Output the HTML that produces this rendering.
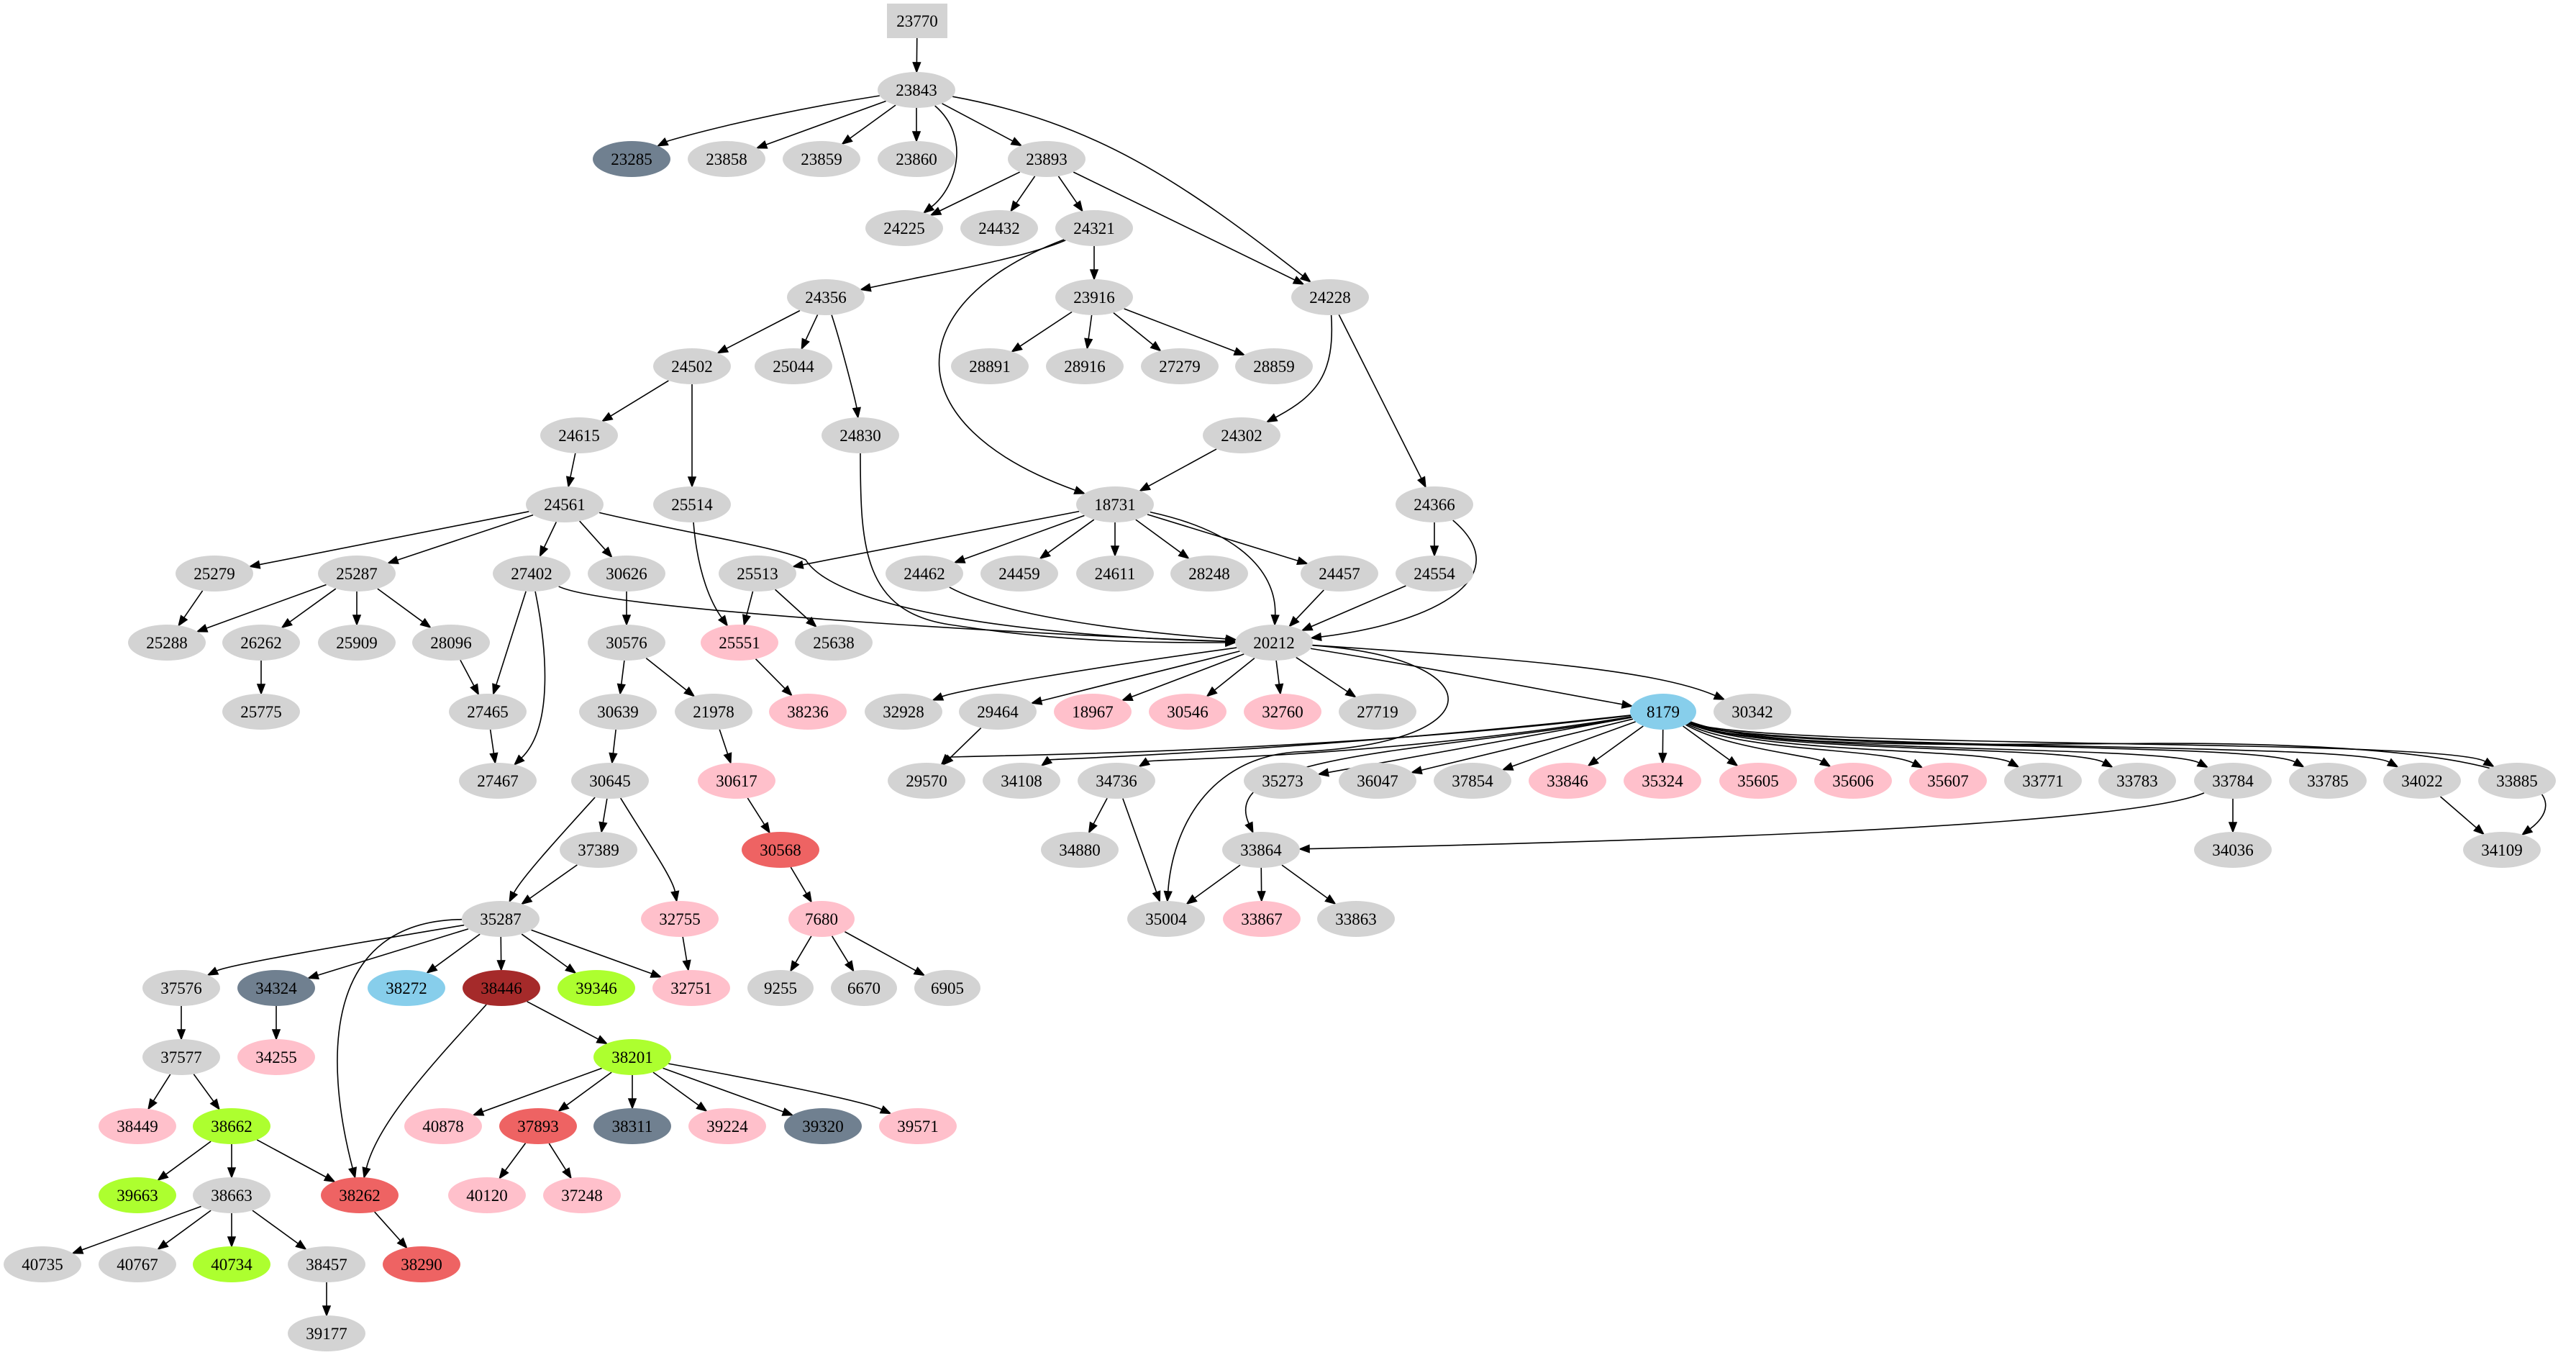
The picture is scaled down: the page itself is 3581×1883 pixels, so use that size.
<!DOCTYPE html>
<html><head><meta charset="utf-8"><style>
html,body{margin:0;padding:0;background:#fff;}
svg{display:block;}
text{font-family:"Liberation Serif",serif;font-size:23px;text-anchor:middle;fill:#000;}
</style></head><body>
<svg id="s" width="3581" height="1883" viewBox="0 0 3581 1883" xmlns="http://www.w3.org/2000/svg">
<g id="edges" stroke="#000" stroke-width="1.6" fill="none"></g>
<g id="arrows" fill="#000" stroke="#000" stroke-width="1.6"></g>
<g id="nodes">
<rect x="1233" y="5" width="84" height="48" fill="#d3d3d3"/><ellipse id="e23770" cx="1275" cy="29" rx="42" ry="24" fill="none"/><text x="1275" y="37">23770</text>
<ellipse id="e23843" cx="1274" cy="125" rx="54" ry="25" fill="#d3d3d3"/><text x="1274" y="133">23843</text>
<ellipse id="e23285" cx="878" cy="221" rx="54" ry="25" fill="#708090"/><text x="878" y="229">23285</text>
<ellipse id="e23858" cx="1010" cy="221" rx="54" ry="25" fill="#d3d3d3"/><text x="1010" y="229">23858</text>
<ellipse id="e23859" cx="1142" cy="221" rx="54" ry="25" fill="#d3d3d3"/><text x="1142" y="229">23859</text>
<ellipse id="e23860" cx="1274" cy="221" rx="54" ry="25" fill="#d3d3d3"/><text x="1274" y="229">23860</text>
<ellipse id="e23893" cx="1455" cy="221" rx="54" ry="25" fill="#d3d3d3"/><text x="1455" y="229">23893</text>
<ellipse id="e24225" cx="1257" cy="317" rx="54" ry="25" fill="#d3d3d3"/><text x="1257" y="325">24225</text>
<ellipse id="e24432" cx="1389" cy="317" rx="54" ry="25" fill="#d3d3d3"/><text x="1389" y="325">24432</text>
<ellipse id="e24321" cx="1521" cy="317" rx="54" ry="25" fill="#d3d3d3"/><text x="1521" y="325">24321</text>
<ellipse id="e24356" cx="1148" cy="413" rx="54" ry="25" fill="#d3d3d3"/><text x="1148" y="421">24356</text>
<ellipse id="e23916" cx="1521" cy="413" rx="54" ry="25" fill="#d3d3d3"/><text x="1521" y="421">23916</text>
<ellipse id="e24228" cx="1849" cy="413" rx="54" ry="25" fill="#d3d3d3"/><text x="1849" y="421">24228</text>
<ellipse id="e24502" cx="962" cy="509" rx="54" ry="25" fill="#d3d3d3"/><text x="962" y="517">24502</text>
<ellipse id="e25044" cx="1103" cy="509" rx="54" ry="25" fill="#d3d3d3"/><text x="1103" y="517">25044</text>
<ellipse id="e28891" cx="1376" cy="509" rx="54" ry="25" fill="#d3d3d3"/><text x="1376" y="517">28891</text>
<ellipse id="e28916" cx="1508" cy="509" rx="54" ry="25" fill="#d3d3d3"/><text x="1508" y="517">28916</text>
<ellipse id="e27279" cx="1640" cy="509" rx="54" ry="25" fill="#d3d3d3"/><text x="1640" y="517">27279</text>
<ellipse id="e28859" cx="1771" cy="509" rx="54" ry="25" fill="#d3d3d3"/><text x="1771" y="517">28859</text>
<ellipse id="e24615" cx="805" cy="605" rx="54" ry="25" fill="#d3d3d3"/><text x="805" y="613">24615</text>
<ellipse id="e24830" cx="1196" cy="605" rx="54" ry="25" fill="#d3d3d3"/><text x="1196" y="613">24830</text>
<ellipse id="e24302" cx="1726" cy="605" rx="54" ry="25" fill="#d3d3d3"/><text x="1726" y="613">24302</text>
<ellipse id="e24561" cx="785" cy="701" rx="54" ry="25" fill="#d3d3d3"/><text x="785" y="709">24561</text>
<ellipse id="e25514" cx="962" cy="701" rx="54" ry="25" fill="#d3d3d3"/><text x="962" y="709">25514</text>
<ellipse id="e18731" cx="1550" cy="701" rx="54" ry="25" fill="#d3d3d3"/><text x="1550" y="709">18731</text>
<ellipse id="e24366" cx="1994" cy="701" rx="54" ry="25" fill="#d3d3d3"/><text x="1994" y="709">24366</text>
<ellipse id="e25279" cx="298" cy="797" rx="54" ry="25" fill="#d3d3d3"/><text x="298" y="805">25279</text>
<ellipse id="e25287" cx="496" cy="797" rx="54" ry="25" fill="#d3d3d3"/><text x="496" y="805">25287</text>
<ellipse id="e27402" cx="739" cy="797" rx="54" ry="25" fill="#d3d3d3"/><text x="739" y="805">27402</text>
<ellipse id="e30626" cx="871" cy="797" rx="54" ry="25" fill="#d3d3d3"/><text x="871" y="805">30626</text>
<ellipse id="e25513" cx="1053" cy="797" rx="54" ry="25" fill="#d3d3d3"/><text x="1053" y="805">25513</text>
<ellipse id="e24462" cx="1285" cy="797" rx="54" ry="25" fill="#d3d3d3"/><text x="1285" y="805">24462</text>
<ellipse id="e24459" cx="1417" cy="797" rx="54" ry="25" fill="#d3d3d3"/><text x="1417" y="805">24459</text>
<ellipse id="e24611" cx="1550" cy="797" rx="54" ry="25" fill="#d3d3d3"/><text x="1550" y="805">24611</text>
<ellipse id="e28248" cx="1681" cy="797" rx="54" ry="25" fill="#d3d3d3"/><text x="1681" y="805">28248</text>
<ellipse id="e24457" cx="1862" cy="797" rx="54" ry="25" fill="#d3d3d3"/><text x="1862" y="805">24457</text>
<ellipse id="e24554" cx="1994" cy="797" rx="54" ry="25" fill="#d3d3d3"/><text x="1994" y="805">24554</text>
<ellipse id="e25288" cx="232" cy="893" rx="54" ry="25" fill="#d3d3d3"/><text x="232" y="901">25288</text>
<ellipse id="e26262" cx="363" cy="893" rx="54" ry="25" fill="#d3d3d3"/><text x="363" y="901">26262</text>
<ellipse id="e25909" cx="496" cy="893" rx="54" ry="25" fill="#d3d3d3"/><text x="496" y="901">25909</text>
<ellipse id="e28096" cx="627" cy="893" rx="54" ry="25" fill="#d3d3d3"/><text x="627" y="901">28096</text>
<ellipse id="e30576" cx="871" cy="893" rx="54" ry="25" fill="#d3d3d3"/><text x="871" y="901">30576</text>
<ellipse id="e25551" cx="1028" cy="893" rx="54" ry="25" fill="#ffc0cb"/><text x="1028" y="901">25551</text>
<ellipse id="e25638" cx="1159" cy="893" rx="54" ry="25" fill="#d3d3d3"/><text x="1159" y="901">25638</text>
<ellipse id="e20212" cx="1771" cy="893" rx="54" ry="25" fill="#d3d3d3"/><text x="1771" y="901">20212</text>
<ellipse id="e25775" cx="363" cy="989" rx="54" ry="25" fill="#d3d3d3"/><text x="363" y="997">25775</text>
<ellipse id="e27465" cx="678" cy="989" rx="54" ry="25" fill="#d3d3d3"/><text x="678" y="997">27465</text>
<ellipse id="e30639" cx="859" cy="989" rx="54" ry="25" fill="#d3d3d3"/><text x="859" y="997">30639</text>
<ellipse id="e21978" cx="992" cy="989" rx="54" ry="25" fill="#d3d3d3"/><text x="992" y="997">21978</text>
<ellipse id="e38236" cx="1123" cy="989" rx="54" ry="25" fill="#ffc0cb"/><text x="1123" y="997">38236</text>
<ellipse id="e32928" cx="1256" cy="989" rx="54" ry="25" fill="#d3d3d3"/><text x="1256" y="997">32928</text>
<ellipse id="e29464" cx="1387" cy="989" rx="54" ry="25" fill="#d3d3d3"/><text x="1387" y="997">29464</text>
<ellipse id="e18967" cx="1519" cy="989" rx="54" ry="25" fill="#ffc0cb"/><text x="1519" y="997">18967</text>
<ellipse id="e30546" cx="1651" cy="989" rx="54" ry="25" fill="#ffc0cb"/><text x="1651" y="997">30546</text>
<ellipse id="e32760" cx="1783" cy="989" rx="54" ry="25" fill="#ffc0cb"/><text x="1783" y="997">32760</text>
<ellipse id="e27719" cx="1915" cy="989" rx="54" ry="25" fill="#d3d3d3"/><text x="1915" y="997">27719</text>
<ellipse id="e8179" cx="2312" cy="989" rx="46" ry="25" fill="#87ceeb"/><text x="2312" y="997">8179</text>
<ellipse id="e30342" cx="2436" cy="989" rx="54" ry="25" fill="#d3d3d3"/><text x="2436" y="997">30342</text>
<ellipse id="e27467" cx="692" cy="1085" rx="54" ry="25" fill="#d3d3d3"/><text x="692" y="1093">27467</text>
<ellipse id="e30645" cx="848" cy="1085" rx="54" ry="25" fill="#d3d3d3"/><text x="848" y="1093">30645</text>
<ellipse id="e30617" cx="1024" cy="1085" rx="54" ry="25" fill="#ffc0cb"/><text x="1024" y="1093">30617</text>
<ellipse id="e29570" cx="1288" cy="1085" rx="54" ry="25" fill="#d3d3d3"/><text x="1288" y="1093">29570</text>
<ellipse id="e34108" cx="1420" cy="1085" rx="54" ry="25" fill="#d3d3d3"/><text x="1420" y="1093">34108</text>
<ellipse id="e34736" cx="1552" cy="1085" rx="54" ry="25" fill="#d3d3d3"/><text x="1552" y="1093">34736</text>
<ellipse id="e35273" cx="1783" cy="1085" rx="54" ry="25" fill="#d3d3d3"/><text x="1783" y="1093">35273</text>
<ellipse id="e36047" cx="1915" cy="1085" rx="54" ry="25" fill="#d3d3d3"/><text x="1915" y="1093">36047</text>
<ellipse id="e37854" cx="2047" cy="1085" rx="54" ry="25" fill="#d3d3d3"/><text x="2047" y="1093">37854</text>
<ellipse id="e33846" cx="2179" cy="1085" rx="54" ry="25" fill="#ffc0cb"/><text x="2179" y="1093">33846</text>
<ellipse id="e35324" cx="2311" cy="1085" rx="54" ry="25" fill="#ffc0cb"/><text x="2311" y="1093">35324</text>
<ellipse id="e35605" cx="2444" cy="1085" rx="54" ry="25" fill="#ffc0cb"/><text x="2444" y="1093">35605</text>
<ellipse id="e35606" cx="2576" cy="1085" rx="54" ry="25" fill="#ffc0cb"/><text x="2576" y="1093">35606</text>
<ellipse id="e35607" cx="2708" cy="1085" rx="54" ry="25" fill="#ffc0cb"/><text x="2708" y="1093">35607</text>
<ellipse id="e33771" cx="2840" cy="1085" rx="54" ry="25" fill="#d3d3d3"/><text x="2840" y="1093">33771</text>
<ellipse id="e33783" cx="2971" cy="1085" rx="54" ry="25" fill="#d3d3d3"/><text x="2971" y="1093">33783</text>
<ellipse id="e33784" cx="3104" cy="1085" rx="54" ry="25" fill="#d3d3d3"/><text x="3104" y="1093">33784</text>
<ellipse id="e33785" cx="3236" cy="1085" rx="54" ry="25" fill="#d3d3d3"/><text x="3236" y="1093">33785</text>
<ellipse id="e34022" cx="3367" cy="1085" rx="54" ry="25" fill="#d3d3d3"/><text x="3367" y="1093">34022</text>
<ellipse id="e33885" cx="3499" cy="1085" rx="54" ry="25" fill="#d3d3d3"/><text x="3499" y="1093">33885</text>
<ellipse id="e37389" cx="832" cy="1181" rx="54" ry="25" fill="#d3d3d3"/><text x="832" y="1189">37389</text>
<ellipse id="e30568" cx="1085" cy="1181" rx="54" ry="25" fill="#ee6363"/><text x="1085" y="1189">30568</text>
<ellipse id="e34880" cx="1501" cy="1181" rx="54" ry="25" fill="#d3d3d3"/><text x="1501" y="1189">34880</text>
<ellipse id="e33864" cx="1753" cy="1181" rx="54" ry="25" fill="#d3d3d3"/><text x="1753" y="1189">33864</text>
<ellipse id="e34036" cx="3104" cy="1181" rx="54" ry="25" fill="#d3d3d3"/><text x="3104" y="1189">34036</text>
<ellipse id="e34109" cx="3478" cy="1181" rx="54" ry="25" fill="#d3d3d3"/><text x="3478" y="1189">34109</text>
<ellipse id="e35287" cx="696" cy="1277" rx="54" ry="25" fill="#d3d3d3"/><text x="696" y="1285">35287</text>
<ellipse id="e32755" cx="945" cy="1277" rx="54" ry="25" fill="#ffc0cb"/><text x="945" y="1285">32755</text>
<ellipse id="e7680" cx="1142" cy="1277" rx="46" ry="25" fill="#ffc0cb"/><text x="1142" y="1285">7680</text>
<ellipse id="e35004" cx="1621" cy="1277" rx="54" ry="25" fill="#d3d3d3"/><text x="1621" y="1285">35004</text>
<ellipse id="e33867" cx="1754" cy="1277" rx="54" ry="25" fill="#ffc0cb"/><text x="1754" y="1285">33867</text>
<ellipse id="e33863" cx="1885" cy="1277" rx="54" ry="25" fill="#d3d3d3"/><text x="1885" y="1285">33863</text>
<ellipse id="e37576" cx="252" cy="1373" rx="54" ry="25" fill="#d3d3d3"/><text x="252" y="1381">37576</text>
<ellipse id="e34324" cx="384" cy="1373" rx="54" ry="25" fill="#708090"/><text x="384" y="1381">34324</text>
<ellipse id="e38272" cx="565" cy="1373" rx="54" ry="25" fill="#87ceeb"/><text x="565" y="1381">38272</text>
<ellipse id="e38446" cx="697" cy="1373" rx="54" ry="25" fill="#a52a2a"/><text x="697" y="1381">38446</text>
<ellipse id="e39346" cx="829" cy="1373" rx="54" ry="25" fill="#adff2f"/><text x="829" y="1381">39346</text>
<ellipse id="e32751" cx="961" cy="1373" rx="54" ry="25" fill="#ffc0cb"/><text x="961" y="1381">32751</text>
<ellipse id="e9255" cx="1085" cy="1373" rx="46" ry="25" fill="#d3d3d3"/><text x="1085" y="1381">9255</text>
<ellipse id="e6670" cx="1201" cy="1373" rx="46" ry="25" fill="#d3d3d3"/><text x="1201" y="1381">6670</text>
<ellipse id="e6905" cx="1317" cy="1373" rx="46" ry="25" fill="#d3d3d3"/><text x="1317" y="1381">6905</text>
<ellipse id="e37577" cx="252" cy="1469" rx="54" ry="25" fill="#d3d3d3"/><text x="252" y="1477">37577</text>
<ellipse id="e34255" cx="384" cy="1469" rx="54" ry="25" fill="#ffc0cb"/><text x="384" y="1477">34255</text>
<ellipse id="e38201" cx="879" cy="1469" rx="54" ry="25" fill="#adff2f"/><text x="879" y="1477">38201</text>
<ellipse id="e38449" cx="191" cy="1565" rx="54" ry="25" fill="#ffc0cb"/><text x="191" y="1573">38449</text>
<ellipse id="e38662" cx="322" cy="1565" rx="54" ry="25" fill="#adff2f"/><text x="322" y="1573">38662</text>
<ellipse id="e40878" cx="616" cy="1565" rx="54" ry="25" fill="#ffc0cb"/><text x="616" y="1573">40878</text>
<ellipse id="e37893" cx="748" cy="1565" rx="54" ry="25" fill="#ee6363"/><text x="748" y="1573">37893</text>
<ellipse id="e38311" cx="879" cy="1565" rx="54" ry="25" fill="#708090"/><text x="879" y="1573">38311</text>
<ellipse id="e39224" cx="1011" cy="1565" rx="54" ry="25" fill="#ffc0cb"/><text x="1011" y="1573">39224</text>
<ellipse id="e39320" cx="1144" cy="1565" rx="54" ry="25" fill="#708090"/><text x="1144" y="1573">39320</text>
<ellipse id="e39571" cx="1276" cy="1565" rx="54" ry="25" fill="#ffc0cb"/><text x="1276" y="1573">39571</text>
<ellipse id="e39663" cx="191" cy="1661" rx="54" ry="25" fill="#adff2f"/><text x="191" y="1669">39663</text>
<ellipse id="e38663" cx="322" cy="1661" rx="54" ry="25" fill="#d3d3d3"/><text x="322" y="1669">38663</text>
<ellipse id="e38262" cx="500" cy="1661" rx="54" ry="25" fill="#ee6363"/><text x="500" y="1669">38262</text>
<ellipse id="e40120" cx="677" cy="1661" rx="54" ry="25" fill="#ffc0cb"/><text x="677" y="1669">40120</text>
<ellipse id="e37248" cx="809" cy="1661" rx="54" ry="25" fill="#ffc0cb"/><text x="809" y="1669">37248</text>
<ellipse id="e40735" cx="59" cy="1757" rx="54" ry="25" fill="#d3d3d3"/><text x="59" y="1765">40735</text>
<ellipse id="e40767" cx="191" cy="1757" rx="54" ry="25" fill="#d3d3d3"/><text x="191" y="1765">40767</text>
<ellipse id="e40734" cx="322" cy="1757" rx="54" ry="25" fill="#adff2f"/><text x="322" y="1765">40734</text>
<ellipse id="e38457" cx="454" cy="1757" rx="54" ry="25" fill="#d3d3d3"/><text x="454" y="1765">38457</text>
<ellipse id="e38290" cx="586" cy="1757" rx="54" ry="25" fill="#ee6363"/><text x="586" y="1765">38290</text>
<ellipse id="e39177" cx="454" cy="1853" rx="54" ry="25" fill="#d3d3d3"/><text x="454" y="1861">39177</text>
</g>
</svg>
<script>
(function(){
var NS="http://www.w3.org/2000/svg";
function P(id){var e=document.getElementById('e'+id);return {x:+e.getAttribute('cx'),y:+e.getAttribute('cy'),rx:+e.getAttribute('rx'),ry:+e.getAttribute('ry')};}
function bnd(n,p){var dx=p[0]-n.x,dy=p[1]-n.y;var t=1/Math.sqrt((dx/n.rx)*(dx/n.rx)+(dy/n.ry)*(dy/n.ry));return [n.x+dx*t,n.y+dy*t];}
var E=[
["23770","23843"],["23843","23285",[[1050,160],[930,195]]],["23843","23858"],["23843","23859"],["23843","23860"],
["23843","24225",[[1350,190],[1330,260]]],["23843","23893"],["23843","24228",[[1520,170],[1640,250]]],
["23893","24225"],["23893","24432"],["23893","24321"],["23893","24228"],
["24321","24356",[[1420,360],[1300,380]]],["24321","23916"],["24321","18731",[[1250,420],[1240,590]]],
["23916","28891"],["23916","28916"],["23916","27279"],["23916","28859"],
["24228","24302",[[1856,520],[1830,550]]],["24228","24366"],
["24356","24502"],["24356","25044"],["24356","24830",[[1170,480],[1190,560]]],
["24502","24615"],["24502","25514"],["24615","24561"],
["24830","20212",[[1196,760],[1200,850],[1320,868],[1480,893],[1600,893]]],["24302","18731"],
["24561","25279"],["24561","25287"],["24561","27402"],["24561","30626"],
["24561","20212",[[950,740],[1080,760],[1120,778],[1165,850],[1450,885]]],
["25514","25551",[[970,800],[990,840]]],
["18731","25513"],["18731","24462"],["18731","24459"],["18731","24611"],["18731","28248"],["18731","24457"],["18731","20212",[[1730,740],[1775,800]]],
["24366","24554"],["24366","20212",[[2110,800],[2000,865]]],
["25279","25288"],["25287","25288"],["25287","26262"],["25287","25909"],["25287","28096"],
["27402","27465"],["27402","27467",[[760,900],[770,1010]]],["27402","20212",[[850,850],[1500,885]]],
["30626","30576"],["25513","25551"],["25513","25638"],
["24462","20212",[[1400,860],[1600,880]]],["24457","20212"],["24554","20212"],
["26262","25775"],["28096","27465"],["30576","30639"],["30576","21978"],["25551","38236"],
["20212","32928",[[1500,930],[1330,960]]],["20212","29464"],["20212","18967"],["20212","30546"],["20212","32760"],["20212","27719"],
["20212","8179",[[2000,930],[2150,960]]],["20212","30342",[[2100,915],[2300,930]]],
["20212","35004",[[2080,915],[2080,1035],[1800,1045],[1680,1055],[1630,1150]]],
["29464","29570"],
["8179","29570",[[1800,1050],[1320,1050]]],["8179","34108",[[1800,1045],[1460,1055]]],["8179","34736",[[1900,1055],[1600,1055]]],
["8179","33864",[[2000,1045],[1690,1045]]],
["8179","35273"],["8179","36047"],["8179","37854"],["8179","33846"],["8179","35324"],["8179","35605"],
["8179","35606",[[2400,1040],[2520,1050]]],["8179","35607",[[2420,1045],[2620,1040]]],
["8179","33771",[[2440,1048],[2760,1040]]],["8179","33783",[[2440,1048],[2880,1035]]],
["8179","33784",[[2440,1048],[3010,1035]]],["8179","33785",[[2440,1045],[3140,1030]]],
["8179","34022",[[2440,1045],[3270,1030]]],["8179","33885",[[2440,1042],[3400,1025]]],
["8179","34109",[[2450,1040],[2700,1035],[3000,1033],[3600,1033],[3560,1120]]],
["27465","27467"],["30639","30645"],["21978","30617"],["30617","30568"],["30568","7680"],
["30645","35287",[[780,1160],[725,1220]]],["30645","37389"],["30645","32755",[[900,1170],[935,1220]]],["37389","35287"],
["34736","34880"],["34736","35004"],["33784","34036"],["33784","33864",[[2950,1150],[2250,1170]]],["34022","34109"],
["33864","35004"],["33864","33867"],["33864","33863"],
["35287","37576",[[500,1310],[320,1340]]],["35287","34324"],["35287","38262",[[450,1280],[450,1470]]],["35287","38272"],["35287","38446"],["35287","39346"],["35287","32751"],
["32755","32751"],["7680","9255"],["7680","6670"],["7680","6905"],
["37576","37577"],["34324","34255"],["38446","38201"],["38446","38262",[[600,1480],[525,1560]]],
["37577","38449"],["37577","38662"],
["38201","40878"],["38201","37893"],["38201","38311"],["38201","39224"],["38201","39320"],["38201","39571",[[1050,1500],[1200,1530]]],
["38662","39663"],["38662","38663"],["38662","38262"],["37893","40120"],["37893","37248"],
["38663","40735"],["38663","40767"],["38663","40734"],["38663","38457"],["38262","38290"],["38457","39177"]
];
var eg=document.getElementById('edges'),ag=document.getElementById('arrows');
E.forEach(function(e){
 var a=P(e[0]),b=P(e[1]),c=e[2];
 var first=c?c[0]:[b.x,b.y],last=c?c[c.length-1]:[a.x,a.y];
 var s=bnd(a,first),t=bnd(b,last);
 var dx=t[0]-last[0],dy=t[1]-last[1],L=Math.sqrt(dx*dx+dy*dy)||1;dx/=L;dy/=L;
 var al=13,aw=5;
 var bx=t[0]-dx*al,by=t[1]-dy*al;
 var d="M"+s[0]+","+s[1];
 if(!c){d+=" L"+bx+","+by;}
 else if(c.length==2){d+=" C"+c[0]+" "+c[1]+" "+bx+","+by;}
 else {d+=" C"+c[0]+" "+c[1]+" "+c[2]+" C"+c[3]+" "+c[4]+" "+bx+","+by;}
 var p=document.createElementNS(NS,'path');p.setAttribute('d',d);eg.appendChild(p);
 var g=document.createElementNS(NS,'polygon');
 g.setAttribute('points',t[0]+","+t[1]+" "+(bx-dy*aw)+","+(by+dx*aw)+" "+(bx+dy*aw)+","+(by-dx*aw));
 ag.appendChild(g);
});
})();
</script>
</body></html>
